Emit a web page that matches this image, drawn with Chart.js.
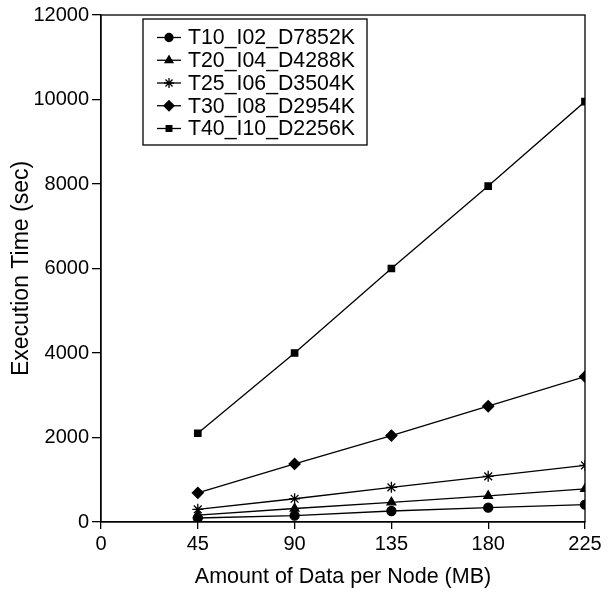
<!DOCTYPE html>
<html>
<head>
<meta charset="utf-8">
<script src="https://cdn.jsdelivr.net/npm/chart.js@4/dist/chart.umd.min.js"></script>
<style>
  html, body { margin: 0; padding: 0; background: #fff; }
  #wrap { width: 614px; height: 594px; }
</style>
</head>
<body>
<div id="wrap"><canvas id="execChart"></canvas></div>
<script>
const dataSizes = [45, 90, 135, 180, 225];
const seriesNames = ["T10_I02_D7852K", "T20_I04_D4288K", "T25_I06_D3504K", "T30_I08_D2954K", "T40_I10_D2256K"];
const t10 = [95, 150, 260, 340, 410];
const t20 = [165, 320, 465, 620, 785];
const t25 = [300, 550, 820, 1080, 1340];
const t30 = [690, 1375, 2045, 2740, 3440];
const t40 = [2100, 4000, 6000, 7950, 9950];
const xTicks = [0, 45, 90, 135, 180, 225];
const yTicks = [0, 2000, 4000, 6000, 8000, 10000, 12000];

const markers = ["circle", "triangle", "star", "rectRot", "rect"];
const markerSize = [4.5, 5, 5.5, 5.5, 4.5];
const allSeries = [t10, t20, t25, t30, t40];

const fontFamily = "'Liberation Sans', Arial, Helvetica, sans-serif";

// box round the plot area (top and right sides too)
const frame = {
  id: "frame",
  afterDatasetsDraw(chart) {
    const { ctx, chartArea: a } = chart;
    ctx.save();
    ctx.strokeStyle = "#000";
    ctx.lineWidth = 1.3;
    ctx.strokeRect(a.left, a.top, a.right - a.left, a.bottom - a.top);
    ctx.restore();
  }
};

// legend drawn inside the plot, upper left
const boxLegend = {
  id: "boxLegend",
  afterDraw(chart) {
    const ctx = chart.ctx;
    const left = 143, top = 19, w = 224, h = 126;
    ctx.save();
    ctx.fillStyle = "#fff";
    ctx.fillRect(left, top, w, h);
    ctx.strokeStyle = "#000";
    ctx.lineWidth = 1.3;
    ctx.strokeRect(left, top, w, h);
    ctx.font = "21.3px " + fontFamily;
    ctx.textBaseline = "middle";
    seriesNames.forEach((name, i) => {
      const y = top + 18.5 + i * 22.75;
      ctx.strokeStyle = "#000";
      ctx.lineWidth = 1.3;
      ctx.beginPath();
      ctx.moveTo(157, y);
      ctx.lineTo(181, y);
      ctx.stroke();
      ctx.fillStyle = "#000";
      Chart.helpers.drawPoint(ctx, {
        pointStyle: markers[i],
        radius: markerSize[i] - 0.5,
        rotation: 0,
        borderWidth: 1.3
      }, 169, y);
      ctx.fillStyle = "#000";
      ctx.fillText(name, 188, y + 1);
    });
    ctx.restore();
  }
};

new Chart(document.getElementById("execChart"), {
  type: "line",
  data: {
    datasets: allSeries.map((vals, i) => ({
      label: seriesNames[i],
      data: vals.map((v, j) => ({ x: dataSizes[j], y: v })),
      borderColor: "#000",
      backgroundColor: "#000",
      borderWidth: 1.3,
      pointStyle: markers[i],
      pointRadius: markerSize[i],
      pointBorderColor: "#000",
      pointBackgroundColor: "#000",
      pointBorderWidth: 1.3,
      tension: 0,
    })),
  },
  options: {
    responsive: true,
    maintainAspectRatio: false,
    animation: false,
    layout: { padding: { top: 13, right: 29, bottom: 0, left: 0 } },
    scales: {
      x: {
        type: "linear",
        min: 0,
        max: 225,
        afterBuildTicks: (s) => { s.ticks = xTicks.map(v => ({ value: v })); },
        afterFit: (s) => { s.height = 72; },
        grid: { drawOnChartArea: false, drawTicks: true, tickLength: 7, color: "#000", lineWidth: 1.3 },
        border: { color: "#000", width: 1.3 },
        ticks: { color: "#000", font: { size: 20, family: fontFamily }, padding: 3, callback: (v) => String(v) },
        title: { display: true, text: "Amount of Data per Node (MB)", color: "#000", font: { size: 21.5, family: fontFamily }, padding: { top: 2 } },
      },
      y: {
        min: 0,
        max: 12000,
        afterBuildTicks: (s) => { s.ticks = yTicks.map(v => ({ value: v })); },
        afterFit: (s) => { s.width = 101; },
        grid: { drawOnChartArea: false, drawTicks: true, tickLength: 9, color: "#000", lineWidth: 1.3 },
        border: { color: "#000", width: 1.3 },
        ticks: { color: "#000", font: { size: 20, family: fontFamily }, padding: 3, callback: (v) => String(v) },
        title: { display: true, text: "Execution Time (sec)", color: "#000", font: { size: 23, family: fontFamily }, padding: { top: 8, bottom: 4 } },
      },
    },
    plugins: {
      legend: { display: false },
      tooltip: { enabled: false },
    },
  },
  plugins: [frame, boxLegend],
});
</script>
</body>
</html>
